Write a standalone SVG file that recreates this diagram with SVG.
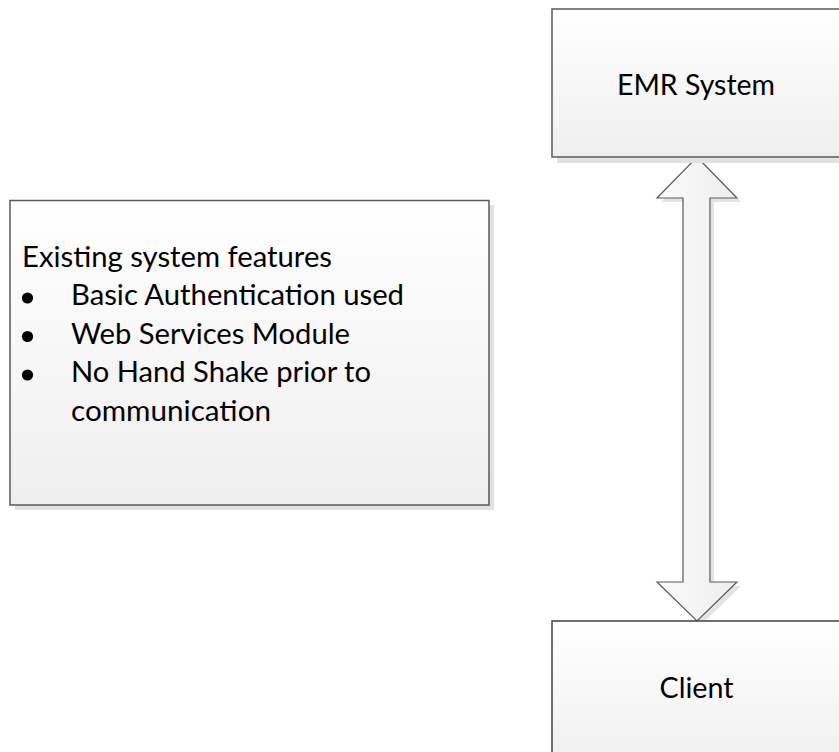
<svg xmlns="http://www.w3.org/2000/svg" width="839" height="752" viewBox="0 0 839 752">
  <defs>
    <linearGradient id="boxFill" x1="0" y1="0" x2="0" y2="1">
      <stop offset="0" stop-color="#ffffff"/>
      <stop offset="1" stop-color="#efefef"/>
    </linearGradient>
    <linearGradient id="arrowFill" x1="0" y1="0" x2="1" y2="0">
      <stop offset="0" stop-color="#fbfbfb"/>
      <stop offset="1" stop-color="#ededed"/>
    </linearGradient>
  </defs>
  <style>
    .shadow { fill: #e2e2e2; }
    .box { fill: url(#boxFill); stroke: #5a5a5a; stroke-width: 1.5; }
    .txt { font-family: Lato, "Open Sans", "Liberation Sans", sans-serif; font-size: 29px; fill: #000000; }
    .bullet { fill: #000000; }
    .arrow { fill: url(#arrowFill); stroke: #5a5a5a; stroke-width: 1.2; stroke-linejoin: miter; }
    .arrowShadow { fill: #e4e4e4; }
  </style>

  <g id="connectors">
    <polygon class="arrowShadow" points="701,161 741,202 714,202 714,586 741,586 701,625 661,586 687,586 687,202 661,202"/>
    <polygon class="arrow" points="697,157 737,198 710,198 710,582 737,582 697,621 657,582 683,582 683,198 657,198"/>
  </g>

  <g id="emr-system">
    <rect class="shadow" x="557" y="13" width="300" height="150"/>
    <rect class="box" x="552" y="9" width="300" height="148"/>
    <text class="txt" x="696" y="95" text-anchor="middle" textLength="158" lengthAdjust="spacingAndGlyphs">EMR System</text>
  </g>

  <g id="client">
    <rect class="shadow" x="557" y="626" width="300" height="150"/>
    <rect class="box" x="552" y="621" width="300" height="150" style="stroke:#404040"/>
    <text class="txt" x="696.5" y="698" text-anchor="middle" textLength="74" lengthAdjust="spacingAndGlyphs">Client</text>
  </g>

  <g id="existing-features">
    <rect class="shadow" x="15" y="205" width="479" height="305"/>
    <rect class="box" x="10" y="200.5" width="479" height="304.5"/>
    <text class="txt" x="22" y="266.5" textLength="310" lengthAdjust="spacingAndGlyphs">Existing system features</text>
    <circle class="bullet" cx="27.5" cy="298" r="5.6"/>
    <text class="txt" x="71" y="305" textLength="333" lengthAdjust="spacingAndGlyphs">Basic Authentication used</text>
    <circle class="bullet" cx="27.5" cy="336.5" r="5.6"/>
    <text class="txt" x="71" y="343.5" textLength="279" lengthAdjust="spacingAndGlyphs">Web Services Module</text>
    <circle class="bullet" cx="27.5" cy="375" r="5.6"/>
    <text class="txt" x="71" y="382" textLength="300" lengthAdjust="spacingAndGlyphs">No Hand Shake prior to</text>
    <text class="txt" x="71" y="420.5" textLength="200" lengthAdjust="spacingAndGlyphs">communication</text>
  </g>
</svg>
